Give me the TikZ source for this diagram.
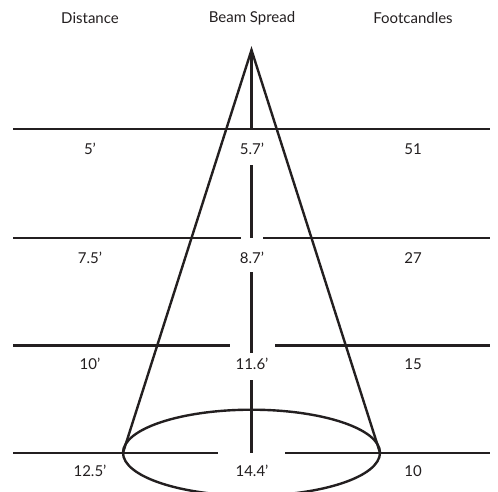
\documentclass[tikz,border=0pt]{standalone}
\usepackage{fontspec}
\setmainfont{Lato}
\usetikzlibrary{positioning}
\definecolor{ink}{HTML}{231F20}

\tikzset{
  hdr/.style={text=ink, font=\fontsize{15}{17}\selectfont, inner sep=0pt},
  val/.style={text=ink, font=\fontsize{15}{17}\selectfont, inner sep=0pt},
  rule/.style={ink, line width=2.4pt}
}

\begin{document}
\begin{tikzpicture}[x=1pt, y=-1pt]

% Background
\useasboundingbox (0,0) rectangle (498,491);
\clip (0,0) rectangle (498,491);
\fill[white] (0,0) rectangle (498,491);

% Column headings
\node[hdr] (dist) at (90,18) {Distance};
\node[hdr] (spread) at (252,18) {Beam Spread};
\node[hdr] (fc) at (413,18) {Footcandles};

% Cone
\coordinate (apex) at (251.5,50);
\coordinate (eL) at (123,452.7);
\coordinate (eR) at (380,452.7);
\draw[rule, line join=miter] (eL) -- (apex) -- (eR);
\draw[rule] (251.5,452.7) ellipse (128.5pt and 43pt);

% Horizontal rules (left end / right start of gap)
\draw[rule] (13,129) -- (490,129);
\foreach \y/\a/\b in {238/241/263, 345.5/230/275, 452.7/218/285} {
  \draw[rule] (13,\y) -- (\a,\y);
  \draw[rule] (\b,\y) -- (490,\y);
}

% Centre axis
\foreach \t/\u in {50/129, 165/237.5, 272/353, 380/452.7}
  \draw[rule] (251.5,\t) -- (251.5,\u);

% Values
\foreach \y/\d/\s/\f [count=\i] in {149/5’/5.7’/51, 258/7.5’/8.7’/27,
    364/10’/11.6’/15, 471/12.5’/14.4’/10} {
  \node[val] (d\i) at (90,\y) {\d};
  \node[val] (s\i) at (252,\y) {\s};
  \node[val] (f\i) at (413,\y) {\f};
}

\end{tikzpicture}
\end{document}
